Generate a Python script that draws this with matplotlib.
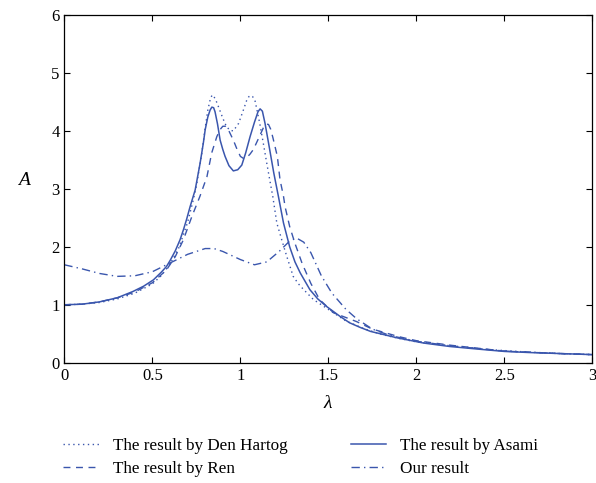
import numpy as np
import matplotlib.pyplot as plt

plt.rcParams['font.family'] = ['Liberation Serif', 'DejaVu Serif']
plt.rcParams['mathtext.fontset'] = 'custom'
plt.rcParams['mathtext.it'] = 'Liberation Serif:italic'

# Den Hartog (dotted)
lam_dh = [0, 0.1, 0.2, 0.3, 0.4, 0.5, 0.55, 0.6, 0.65, 0.7, 0.73, 0.75, 0.78, 0.8, 0.815, 0.83, 0.84,
          0.85, 0.862, 0.875, 0.9, 0.92, 0.94, 0.96, 0.99, 1.017, 1.035, 1.048, 1.058, 1.07, 1.084,
          1.11, 1.13, 1.15, 1.17, 1.184, 1.207, 1.235, 1.264, 1.30, 1.33, 1.36, 1.415, 1.5, 1.6,
          1.7, 1.8, 1.9, 2.0, 2.2, 2.4, 2.6, 2.8, 3.0]
A_dh = [1.0, 1.01, 1.04, 1.1, 1.2, 1.36, 1.5, 1.7, 1.98, 2.42, 2.78, 3.05, 3.6, 4.05, 4.36, 4.56, 4.62,
        4.59, 4.52, 4.42, 4.22, 4.08, 4.01, 4.0, 4.13, 4.36, 4.52, 4.59, 4.61, 4.59, 4.51,
        4.13, 3.79, 3.44, 3.10, 2.87, 2.41, 2.12, 1.83, 1.49, 1.36, 1.26, 1.09, 0.92, 0.72,
        0.59, 0.49, 0.42, 0.36, 0.29, 0.23, 0.19, 0.16, 0.14]

# Asami (solid)
lam_as = [0, 0.1, 0.2, 0.3, 0.39, 0.45, 0.506, 0.55, 0.58, 0.6, 0.63, 0.657, 0.676, 0.695, 0.714, 0.743,
          0.771, 0.79, 0.80, 0.815, 0.828, 0.838, 0.848, 0.856, 0.87, 0.885, 0.9, 0.913, 0.935, 0.96,
          0.985, 1.008, 1.03, 1.055, 1.08, 1.10, 1.112, 1.125, 1.14, 1.16, 1.19, 1.216, 1.245, 1.28,
          1.31, 1.34, 1.395, 1.44, 1.49, 1.566, 1.62, 1.68, 1.74, 1.89, 2.04, 2.19, 2.35, 2.5, 2.65,
          2.8, 3.0]
A_as = [1.0, 1.01, 1.05, 1.12, 1.23, 1.32, 1.43, 1.56, 1.66, 1.76, 1.93, 2.12, 2.29, 2.48, 2.69, 2.98,
        3.44, 3.80, 4.02, 4.24, 4.36, 4.41, 4.40, 4.33, 4.12, 3.84, 3.68, 3.56, 3.40, 3.31,
        3.33, 3.41, 3.62, 3.90, 4.15, 4.33, 4.38, 4.34, 4.13, 3.79, 3.27, 2.87, 2.41, 2.0,
        1.74, 1.55, 1.26, 1.10, 0.97, 0.80, 0.69, 0.61, 0.54, 0.43, 0.34, 0.28, 0.235, 0.195, 0.175,
        0.16, 0.14]

# Ren (dashed)
lam_ren = [0, 0.1, 0.2, 0.3, 0.4, 0.5, 0.58, 0.63, 0.676, 0.724, 0.77, 0.81, 0.837, 0.866, 0.884,
           0.9, 0.915, 0.93, 0.96, 0.98, 1.0, 1.02, 1.036, 1.055, 1.074, 1.1, 1.13, 1.147, 1.16,
           1.172, 1.185, 1.21, 1.225, 1.245, 1.254, 1.28, 1.31, 1.35, 1.40, 1.45, 1.53, 1.66, 1.75,
           1.9, 2.0, 2.2, 2.5, 2.8, 3.0]
A_ren = [1.0, 1.01, 1.05, 1.12, 1.22, 1.38, 1.60, 1.83, 2.12, 2.52, 2.87, 3.21, 3.62, 3.90, 4.02,
         4.08, 4.08, 4.03, 3.84, 3.69, 3.56, 3.52, 3.54, 3.60, 3.68, 3.85, 4.05, 4.12, 4.11,
         4.03, 3.88, 3.56, 3.16, 2.87, 2.69, 2.35, 2.06, 1.72, 1.37, 1.09, 0.86, 0.71, 0.58,
         0.45, 0.38, 0.30, 0.2, 0.16, 0.14]

# Our result (dash-dot)
lam_our = [0, 0.1, 0.2, 0.3, 0.4, 0.5, 0.6, 0.7, 0.8, 0.85, 0.9, 1.0, 1.08, 1.15, 1.22, 1.28,
           1.32, 1.36, 1.40, 1.46, 1.52, 1.6, 1.66, 1.75, 1.85, 2.0, 2.2, 2.5, 2.8, 3.0]
A_our = [1.69, 1.62, 1.54, 1.49, 1.50, 1.57, 1.72, 1.87, 1.97, 1.97, 1.92, 1.78, 1.69, 1.74, 1.92, 2.10,
         2.15, 2.08, 1.90, 1.50, 1.20, 0.92, 0.76, 0.58, 0.47, 0.37, 0.29, 0.2, 0.16, 0.14]

col = '#3a56ad'

fig = plt.figure(figsize=(5.96, 4.83), dpi=100)
ax = fig.add_axes([0.108, 0.249, 0.886, 0.72])

l1, = ax.plot(lam_dh, A_dh, color=col, lw=1.0, ls=(0, (1, 2.5)), label='The result by Den Hartog')
l2, = ax.plot(lam_as, A_as, color=col, lw=1.1, ls='-', label='The result by Asami')
l3, = ax.plot(lam_ren, A_ren, color=col, lw=1.0, ls=(0, (5, 4)), label='The result by Ren')
l4, = ax.plot(lam_our, A_our, color=col, lw=1.0, ls=(0, (6, 3, 1, 3)), label='Our result')

ax.set_xlim(0, 3)
ax.set_ylim(0, 6)
ax.set_xticks([0, 0.5, 1, 1.5, 2, 2.5, 3])
ax.set_xticklabels(['0', '0.5', '1', '1.5', '2', '2.5', '3'])
ax.set_yticks(range(7))
ax.tick_params(direction='in', top=True, right=True, labelsize=12, length=4, width=0.8)
for s in ax.spines.values():
    s.set_linewidth(0.9)

ax.set_xlabel(r'$\lambda$', fontsize=14, labelpad=8)
ax.set_ylabel(r'$A$', fontsize=14, rotation=0, labelpad=18)
ax.yaxis.set_label_coords(-0.075, 0.5)

fig.legend([l1, l3, l2, l4], [l1.get_label(), l3.get_label(), l2.get_label(), l4.get_label()],
           ncol=2, frameon=False, fontsize=12.3, loc='lower left', bbox_to_anchor=(0.08, -0.02),
           handlelength=2.1, handletextpad=0.8, columnspacing=3.7, labelspacing=0.4)

plt.savefig('out.png', dpi=100)
